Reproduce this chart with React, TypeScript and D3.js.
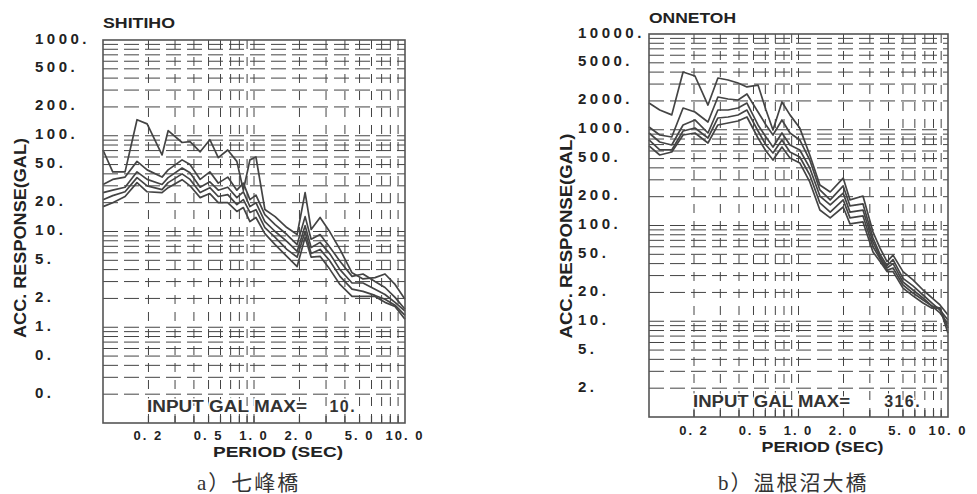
import React, { useEffect, useRef } from "react";
import * as d3 from "d3";

// periods (sec) at which the spectra were read
const shitihoPeriods = [0.1, 0.116, 0.14, 0.168, 0.196, 0.246, 0.27, 0.334, 0.377, 0.44, 0.51, 0.58, 0.67, 0.77, 0.85, 0.94, 1.03, 1.18, 1.38, 1.65, 1.93, 2.18, 2.39, 2.74, 3.19, 3.71, 4.46, 5.27, 6.33, 7.37, 8.59, 10.0];
const shitiho1 = [71, 42, 42, 147, 133, 63, 113, 85, 87, 68, 91, 59, 71, 54, 27, 56, 60, 17, 14.3, 11, 9.3, 25.5, 10.5, 14, 9.8, 6.5, 3.7, 3.2, 3.3, 3.6, 2.8, 1.96];
const shitiho2 = [31, 35, 37, 54, 44, 37, 44, 56, 50, 35, 42, 32, 37, 27, 32, 21.5, 24, 15, 11.8, 9.3, 7.3, 14.3, 8.3, 9.3, 6.8, 4.9, 3.4, 3.6, 3.0, 2.6, 2.05, 1.54];
const shitiho3 = [25.5, 27, 29, 42, 35, 31, 36.5, 46, 41, 29, 33, 27, 29, 22.6, 26, 18.2, 20, 12.7, 10, 7.9, 6.2, 11.5, 6.8, 7.7, 5.8, 4.0, 2.9, 2.9, 2.5, 2.2, 1.82, 1.47];
const shitiho4 = [21.5, 23.7, 26, 36.5, 30, 27.4, 32.4, 40, 35, 25.5, 28.7, 23.2, 24.3, 19.1, 21.5, 15.8, 16.9, 11, 8.7, 6.5, 5.4, 10, 5.9, 6.5, 4.9, 3.4, 2.5, 2.37, 2.15, 1.96, 1.7, 1.33];
const shitiho5 = [18.2, 20, 23.2, 32.4, 26, 25.5, 28.7, 34.8, 30, 22.6, 24.9, 20, 20, 16.2, 17.8, 12.7, 14, 9.5, 7.3, 5.5, 4.3, 8.7, 5.4, 5.5, 4.0, 2.8, 2.1, 2.1, 2.1, 1.82, 1.65, 1.21];

const onnetohPeriods = [0.1, 0.118, 0.142, 0.169, 0.203, 0.248, 0.289, 0.338, 0.394, 0.452, 0.536, 0.606, 0.675, 0.775, 0.877, 1.02, 1.19, 1.39, 1.63, 1.99, 2.21, 2.7, 3.15, 3.51, 3.91, 4.29, 5.0, 5.83, 6.81, 7.82, 8.84, 10.0];
const onnetoh1 = [1900, 1610, 1430, 4010, 3640, 1810, 3470, 3310, 3080, 2800, 2930, 1610, 994, 1950, 1430, 1040, 545, 265, 224, 313, 185, 203, 85.5, 58, 42, 49, 33, 27, 21.2, 17.5, 14.8, 11.6];
const onnetoh2 = [1069, 881, 840, 1687, 1532, 1205, 2198, 2094, 2046, 2362, 1532, 1122, 881, 1265, 925, 782, 483, 235, 185, 259, 160, 168, 74, 50, 38, 44, 28, 23.4, 18.8, 15.5, 13.1, 10.3];
const onnetoh3 = [925, 745, 693, 1122, 1265, 925, 1607, 1607, 1687, 1902, 1122, 840, 660, 925, 693, 615, 399, 203, 164, 218, 138, 145, 67, 47, 36, 40, 25.7, 21.2, 17.5, 14.4, 12.2, 9.4];
const onnetoh4 = [782, 615, 615, 970, 1043, 820, 1327, 1359, 1426, 1607, 970, 693, 572, 782, 586, 519, 337, 172, 138, 185, 120, 126, 60, 45, 34, 36, 23.9, 19.7, 16.7, 14.4, 13.7, 8.5];
const onnetoh5 = [677, 545, 586, 881, 925, 727, 1122, 1177, 1234, 1359, 820, 600, 483, 660, 507, 450, 285, 145, 120, 156, 104, 109, 53, 42, 33, 33, 22.2, 18.4, 15.5, 13.7, 13.7, 7.5];

const periodTicks = [0.2, 0.5, 1, 2, 5, 10];
const periodTickLabels = ["0. 2", "0. 5", "1. 0", "2. 0", "5. 0", "10. 0"];

const shitihoAccTicks = [1000, 500, 200, 100, 50, 20, 10, 5, 2, 1, 0.5, 0.2];
const shitihoAccLabels = ["1000.", "500.", "200.", "100.", "50.", "20.", "10.", "5.", "2.", "1.", "0.", "0."];
const onnetohAccTicks = [10000, 5000, 2000, 1000, 500, 200, 100, 50, 20, 10, 5, 2];
const onnetohAccLabels = ["10000.", "5000.", "2000.", "1000.", "500.", "200.", "100.", "50.", "20.", "10.", "5.", "2."];

const SANS = "'Liberation Sans', Arial, sans-serif";
const CAPTION = "'Liberation Serif', 'Noto Sans CJK JP', serif";

const charts = [
  {
    title: "SHITIHO",
    caption: "a）七峰橋",
    inputMax: "10.",
    periods: shitihoPeriods,
    series: [shitiho1, shitiho2, shitiho3, shitiho4, shitiho5],
    yDomain: [0.1, 1000],
    accTicks: shitihoAccTicks,
    accLabels: shitihoAccLabels,
    x0: 103, x1: 405, y0: 40, y1: 423,
    labelX: 35, titleY: 28, titleW: 72,
    yTitleX: 20, yTitleY: 238, yTitleW: 200,
    tickY: 440, periodY: 457, periodW: 130, captionX: 197,
    inputX: 147, inputY: 412, inputW: 160, inputValX: 356,
  },
  {
    title: "ONNETOH",
    caption: "b）温根沼大橋",
    inputMax: "316.",
    periods: onnetohPeriods,
    series: [onnetoh1, onnetoh2, onnetoh3, onnetoh4, onnetoh5],
    yDomain: [1, 10000],
    accTicks: onnetohAccTicks,
    accLabels: onnetohAccLabels,
    x0: 649, x1: 948, y0: 34, y1: 417,
    labelX: 578, titleY: 23, titleW: 87,
    yTitleX: 566, yTitleY: 236, yTitleW: 205,
    tickY: 435, periodY: 452, periodW: 122, captionX: 718,
    inputX: 693, inputY: 407, inputW: 157, inputValX: 921,
  },
];

function Spectrum({ c }) {
  const ref = useRef(null);

  useEffect(() => {
    const g = d3.select(ref.current);
    g.selectAll("*").remove();

    const x = d3.scaleLog().domain([0.1, 10]).range([c.x0, c.x1]);
    const y = d3.scaleLog().domain(c.yDomain).range([c.y1, c.y0]);

    const xGrid = x.ticks().filter((t) => t > 0.1001 && t < 9.99);
    const yGrid = y.ticks().filter((t) => t > c.yDomain[0] * 1.001 && t < c.yDomain[1] * 0.999);

    // dashed log-log grid
    g.append("g")
      .selectAll("line")
      .data(yGrid)
      .join("line")
      .attr("x1", c.x0)
      .attr("x2", c.x1)
      .attr("y1", (d) => y(d))
      .attr("y2", (d) => y(d))
      .attr("stroke", "#444")
      .attr("stroke-width", 1)
      .attr("stroke-dasharray", "15,6");

    g.append("g")
      .selectAll("line")
      .data(xGrid)
      .join("line")
      .attr("x1", (d) => x(d))
      .attr("x2", (d) => x(d))
      .attr("y1", c.y0)
      .attr("y2", c.y1)
      .attr("stroke", "#444")
      .attr("stroke-width", 1)
      .attr("stroke-dasharray", "9,8");

    // bottom minor ticks
    g.append("g")
      .selectAll("line")
      .data(xGrid)
      .join("line")
      .attr("x1", (d) => x(d))
      .attr("x2", (d) => x(d))
      .attr("y1", c.y1)
      .attr("y2", c.y1 - 7)
      .attr("stroke", "#444")
      .attr("stroke-width", 1.2);

    // spectra
    const line = d3
      .line()
      .x((d) => x(d[0]))
      .y((d) => y(d[1]));
    g.append("g")
      .selectAll("path")
      .data(c.series.map((s) => s.map((v, i) => [c.periods[i], v])))
      .join("path")
      .attr("d", line)
      .attr("fill", "none")
      .attr("stroke", "#444")
      .attr("stroke-width", 1.7)
      .attr("stroke-linejoin", "round");

    // frame
    g.append("rect")
      .attr("x", c.x0)
      .attr("y", c.y0)
      .attr("width", c.x1 - c.x0)
      .attr("height", c.y1 - c.y0)
      .attr("fill", "none")
      .attr("stroke", "#555")
      .attr("stroke-width", 1.6);

    // y tick labels
    g.append("g")
      .selectAll("text")
      .data(c.accTicks)
      .join("text")
      .attr("x", c.labelX)
      .attr("y", (d) => y(d) - 2)
      .attr("dominant-baseline", "central")
      .attr("font-family", SANS)
      .attr("font-weight", "bold")
      .attr("font-size", 15)
      .attr("letter-spacing", 3.5)
      .attr("fill", "#222")
      .text((d, i) => c.accLabels[i]);

    // x tick labels
    g.append("g")
      .selectAll("text")
      .data(periodTicks)
      .join("text")
      .attr("x", (d) => x(d))
      .attr("y", c.tickY)
      .attr("text-anchor", "middle")
      .attr("font-family", SANS)
      .attr("font-weight", "bold")
      .attr("font-size", 13)
      .attr("letter-spacing", 2)
      .attr("fill", "#222")
      .text((d, i) => periodTickLabels[i]);

    g.append("text")
      .attr("x", c.x0)
      .attr("y", c.titleY)
      .attr("font-family", SANS)
      .attr("font-weight", "bold")
      .attr("font-size", 15)
      .attr("textLength", c.titleW)
      .attr("lengthAdjust", "spacingAndGlyphs")
      .attr("fill", "#222")
      .text(c.title);

    g.append("text")
      .attr("transform", `translate(${c.yTitleX},${c.yTitleY}) rotate(-90)`)
      .attr("x", -c.yTitleW / 2)
      .attr("dominant-baseline", "central")
      .attr("font-family", SANS)
      .attr("font-weight", "bold")
      .attr("font-size", 16)
      .attr("textLength", c.yTitleW)
      .attr("lengthAdjust", "spacingAndGlyphs")
      .attr("fill", "#222")
      .text("ACC. RESPONSE(GAL)");

    g.append("text")
      .attr("x", (c.x0 + c.x1) / 2 + 24 - c.periodW / 2)
      .attr("y", c.periodY)
      .attr("font-family", SANS)
      .attr("font-weight", "bold")
      .attr("font-size", 15)
      .attr("textLength", c.periodW)
      .attr("lengthAdjust", "spacingAndGlyphs")
      .attr("fill", "#222")
      .text("PERIOD (SEC)");

    g.append("text")
      .attr("x", c.inputX)
      .attr("y", c.inputY)
      .attr("font-family", SANS)
      .attr("font-weight", "bold")
      .attr("font-size", 16)
      .attr("textLength", c.inputW)
      .attr("lengthAdjust", "spacingAndGlyphs")
      .attr("fill", "#333")
      .attr("stroke", "#fff")
      .attr("stroke-width", 3)
      .attr("paint-order", "stroke")
      .text("INPUT GAL MAX=");

    g.append("text")
      .attr("x", c.inputValX)
      .attr("y", c.inputY)
      .attr("text-anchor", "end")
      .attr("font-family", SANS)
      .attr("font-weight", "bold")
      .attr("font-size", 16)
      .attr("letter-spacing", 1.4)
      .attr("fill", "#333")
      .attr("stroke", "#fff")
      .attr("stroke-width", 3)
      .attr("paint-order", "stroke")
      .text(c.inputMax);

    g.append("text")
      .attr("x", c.captionX)
      .attr("y", 490)
      .attr("font-family", CAPTION)
      .attr("font-size", 21)
      .attr("letter-spacing", 2)
      .attr("fill", "#333")
      .text(c.caption);
  }, [c]);

  return <g ref={ref}></g>;
}

export default function App() {
  return (
    <svg
      width={977}
      height={494}
      style={{ position: "absolute", left: 0, top: 0, background: "#fff" }}
    >
      {charts.map((c) => (
        <Spectrum key={c.title} c={c} />
      ))}
    </svg>
  );
}
